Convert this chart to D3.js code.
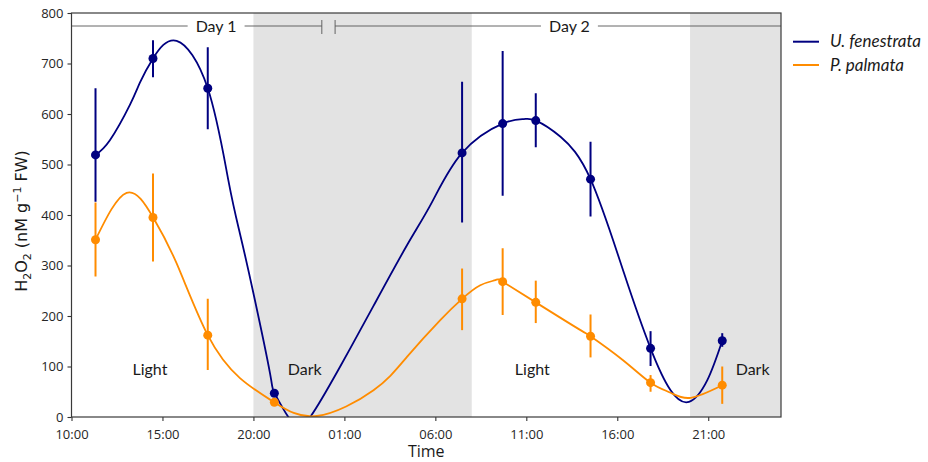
<!DOCTYPE html>
<html>
<head>
<meta charset="utf-8">
<script src="https://cdn.jsdelivr.net/npm/d3@7"></script>
<style>
    body { margin: 0; background: #fff; }
    svg { display: block; }
</style>
</head>
<body>
<div id="chart"></div>
<script>
// Sampling times, in hours since 10:00 on day 1
var sampleHours = [1.32, 4.48, 7.49, 11.15, 21.47, 23.7, 25.52, 28.53, 31.83, 35.77];

// U. fenestrata : mean and error bar ends (nM g-1 FW)
var fenestrataMean = [519, 710, 651, 47, 523, 581, 587, 471, 136, 151];
var fenestrataLow = [426, 673, 570, 40, 385, 438, 534, 397, 101, 139];
var fenestrataHigh = [651, 746, 732, 54, 664, 725, 641, 545, 170, 166];

// P. palmata : mean and error bar ends
var palmataMean = [351, 395, 162, 29, 234, 268, 227, 160, 68, 63];
var palmataLow = [278, 308, 93, 24, 172, 202, 186, 118, 50, 26];
var palmataHigh = [425, 482, 234, 34, 294, 334, 270, 203, 83, 100];

// Fitted curves
var fenestrataFitHours = [1.32, 2.11, 3.21, 3.76, 4.48, 5.78, 7.49, 8.62, 9.26, 10.0, 10.92, 11.15, 11.92, 12.46, 13.12, 14.77, 16.6, 18.44, 19.81, 21.47, 23.7, 24.86, 25.52, 26.88, 28.53, 30.36, 31.83, 32.93, 33.94, 34.95, 35.77];
var fenestrataFitValues = [519, 548, 618, 662, 710, 745, 651, 469, 363, 245, 85, 48, 0, -15, 0, 100, 220, 340, 425, 523, 581, 590, 587, 555, 471, 286, 136, 53, 30, 73, 151];
var palmataFitHours = [1.32, 3.03, 4.49, 5.78, 7.49, 9.26, 11.15, 13.49, 16.6, 18.44, 20.27, 21.47, 22.47, 23.3, 23.7, 25.52, 27.98, 28.53, 30.3, 31.83, 32.93, 34.03, 35.77];
var palmataFitValues = [351, 444, 395, 304, 162, 77, 29, 2, 53, 119, 192, 234, 261, 271, 268, 227, 172, 160, 113, 68, 48, 38, 63];

var seriesNames = ["U. fenestrata", "P. palmata"];
var seriesColors = ["#000080", "#ff8c00"];

// Dark periods (start, end) in hours
var darkStarts = [10, 34];
var darkEnds = [22, 39];

// Light / Dark labels
var phaseLabels = ["Light", "Dark", "Light", "Dark"];
var phaseLabelHours = [4.31, 12.82, 25.33, 37.44];

// Day brackets along the top
var dayLabels = ["Day 1", "Day 2"];
var dayStarts = [0, 14.49];
var dayEnds = [13.76, 39];
var dayTextHours = [7.95, 27.37];

// Ticks
var xTickHours = [0, 5, 10, 15, 20, 25, 30, 35];
var yTicks = [0, 100, 200, 300, 400, 500, 600, 700, 800];

// Dimensions
var width = 928, height = 462;
var plotLeft = 71.5, plotRight = 781, plotTop = 13, plotBottom = 417;

var x = d3.scaleLinear().domain([0, 39]).range([plotLeft, plotRight]);
var y = d3.scaleLinear().domain([0, 800]).range([plotBottom, plotTop]);

var svg = d3.select("#chart").append("svg")
    .attr("width", width)
    .attr("height", height);

svg.append("defs").append("clipPath")
    .attr("id", "plot-clip")
    .append("rect")
    .attr("x", plotLeft)
    .attr("y", plotTop)
    .attr("width", plotRight - plotLeft)
    .attr("height", plotBottom - plotTop);

// Grey shading for the dark periods
svg.append("g").selectAll("rect")
    .data(darkStarts)
    .enter().append("rect")
    .attr("x", function (d) { return x(d); })
    .attr("y", plotTop)
    .attr("width", function (d, i) { return x(darkEnds[i]) - x(d); })
    .attr("height", plotBottom - plotTop)
    .attr("fill", "#e3e3e3");

// Light / Dark labels
svg.append("g").selectAll("text")
    .data(phaseLabels)
    .enter().append("text")
    .attr("x", function (d, i) { return x(phaseLabelHours[i]); })
    .attr("y", y(83))
    .attr("text-anchor", "middle")
    .style("font-family", "Lato, sans-serif")
    .style("font-size", "16px")
    .style("fill", "#1a1a1a")
    .text(function (d) { return d; });

// Day brackets
var dayGroup = svg.append("g");
dayLabels.forEach(function (label, i) {
    var t = dayGroup.append("text")
        .attr("x", x(dayTextHours[i]))
        .attr("y", 32)
        .attr("text-anchor", "middle")
        .style("font-family", "Lato, sans-serif")
        .style("font-size", "16px")
        .style("fill", "#1a1a1a")
        .text(label);
    var half = t.node().getComputedTextLength() / 2 + 8;
    var ly = 26;
    dayGroup.append("line")
        .attr("x1", x(dayStarts[i])).attr("x2", x(dayTextHours[i]) - half)
        .attr("y1", ly).attr("y2", ly)
        .attr("stroke", "#555").attr("stroke-width", 0.9);
    dayGroup.append("line")
        .attr("x1", x(dayTextHours[i]) + half).attr("x2", x(dayEnds[i]))
        .attr("y1", ly).attr("y2", ly)
        .attr("stroke", "#555").attr("stroke-width", 0.9);
});
// small vertical ticks where the two days meet
dayGroup.selectAll(".day-tick")
    .data([dayEnds[0], dayStarts[1]])
    .enter().append("line")
    .attr("class", "day-tick")
    .attr("x1", function (d) { return x(d); })
    .attr("x2", function (d) { return x(d); })
    .attr("y1", 20).attr("y2", 34)
    .attr("stroke", "#555").attr("stroke-width", 0.9);

// Series
var series = [
    { hours: fenestrataFitHours, fit: fenestrataFitValues, mean: fenestrataMean, low: fenestrataLow, high: fenestrataHigh },
    { hours: palmataFitHours, fit: palmataFitValues, mean: palmataMean, low: palmataLow, high: palmataHigh }
];

var line = d3.line()
    .x(function (d) { return x(d[0]); })
    .y(function (d) { return y(d[1]); })
    .curve(d3.curveNatural);

series.forEach(function (s, k) {
    var g = svg.append("g").attr("clip-path", "url(#plot-clip)");
    var pts = s.hours.map(function (h, i) { return [h, s.fit[i]]; });

    g.append("path")
        .attr("d", line(pts))
        .attr("fill", "none")
        .attr("stroke", seriesColors[k])
        .attr("stroke-width", 1.8);

    g.selectAll(".err")
        .data(sampleHours)
        .enter().append("line")
        .attr("class", "err")
        .attr("x1", function (d) { return x(d); })
        .attr("x2", function (d) { return x(d); })
        .attr("y1", function (d, i) { return y(s.low[i]); })
        .attr("y2", function (d, i) { return y(s.high[i]); })
        .attr("stroke", seriesColors[k])
        .attr("stroke-width", 2);

    g.selectAll(".dot")
        .data(sampleHours)
        .enter().append("circle")
        .attr("class", "dot")
        .attr("cx", function (d) { return x(d); })
        .attr("cy", function (d, i) { return y(s.mean[i]); })
        .attr("r", 4.5)
        .attr("fill", seriesColors[k]);
});

// Axes
var xAxis = d3.axisBottom(x)
    .tickValues(xTickHours)
    .tickSize(4)
    .tickPadding(9)
    .tickFormat(function (h) { return d3.format("02d")((10 + h) % 24) + ":00"; });
var yAxis = d3.axisLeft(y)
    .tickValues(yTicks)
    .tickSize(4)
    .tickPadding(4);

var gx = svg.append("g")
    .attr("transform", "translate(0," + plotBottom + ")")
    .call(xAxis);
var gy = svg.append("g")
    .attr("transform", "translate(" + plotLeft + ",0)")
    .call(yAxis);

[gx, gy].forEach(function (g) {
    g.select(".domain").remove();
    g.selectAll("line").attr("stroke", "#333").attr("stroke-width", 1.1);
    g.selectAll("text")
        .style("font-family", "'Open Sans', sans-serif")
        .style("font-size", "13px")
        .style("fill", "#262626");
});

// Frame
svg.append("rect")
    .attr("x", plotLeft).attr("y", plotTop)
    .attr("width", plotRight - plotLeft).attr("height", plotBottom - plotTop)
    .attr("fill", "none")
    .attr("stroke", "#3a3a3a")
    .attr("stroke-width", 1.2);

// Axis titles
svg.append("text")
    .attr("x", (plotLeft + plotRight) / 2)
    .attr("y", 457)
    .attr("text-anchor", "middle")
    .style("font-family", "'Open Sans', sans-serif")
    .style("font-size", "16px")
    .style("fill", "#1a1a1a")
    .text("Time");

var ylab = svg.append("text")
    .attr("transform", "translate(27,221) rotate(-90)")
    .attr("text-anchor", "middle")
    .style("font-family", "'DejaVu Sans', sans-serif")
    .style("font-size", "16px")
    .style("fill", "#1a1a1a");
ylab.append("tspan").text("H");
ylab.append("tspan").attr("dy", 4).style("font-size", "11px").text("2");
ylab.append("tspan").attr("dy", -4).text("O");
ylab.append("tspan").attr("dy", 4).style("font-size", "11px").text("2");
ylab.append("tspan").attr("dy", -4).text(" (nM g");
ylab.append("tspan").attr("dy", -6).style("font-size", "11px").text("\u22121");
ylab.append("tspan").attr("dy", 6).text(" FW)");

// Legend
var legend = svg.append("g").selectAll("g")
    .data(seriesNames)
    .enter().append("g")
    .attr("transform", function (d, i) { return "translate(793," + (41.7 + i * 23.3) + ")"; });

legend.append("line")
    .attr("x1", 0).attr("x2", 26)
    .attr("stroke", function (d, i) { return seriesColors[i]; })
    .attr("stroke-width", 2);

legend.append("text")
    .attr("x", 37)
    .attr("y", 5.5)
    .style("font-family", "Lato, sans-serif")
    .style("font-style", "italic")
    .style("font-size", "17px")
    .style("fill", "#1a1a1a")
    .text(function (d) { return d; });
</script>
</body>
</html>
